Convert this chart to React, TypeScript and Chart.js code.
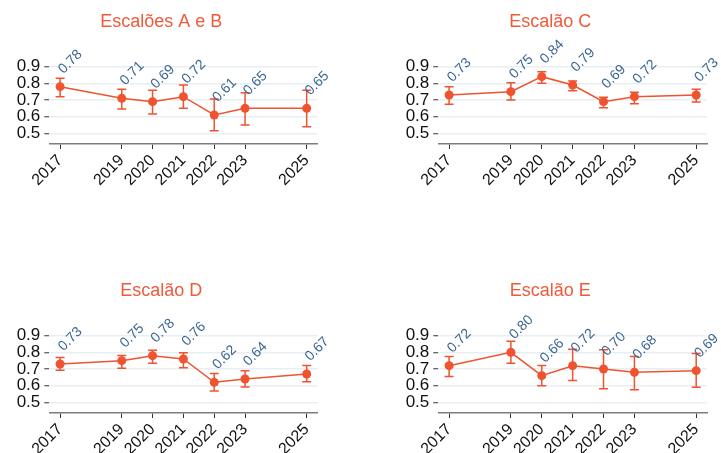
import React, { useEffect, useRef } from "react";
import { Chart, registerables } from "chart.js";
Chart.register(...registerables);

const years = [2017, 2019, 2020, 2021, 2022, 2023, 2025];
const yTicks = [0.5, 0.6, 0.7, 0.8, 0.9];

const titleAB = "Escalões A e B";
const valuesAB = [0.78, 0.71, 0.69, 0.72, 0.61, 0.65, 0.65];
const lowAB = [0.72, 0.646, 0.616, 0.65, 0.516, 0.55, 0.54];
const highAB = [0.83, 0.764, 0.758, 0.79, 0.706, 0.744, 0.758];

const titleC = "Escalão C";
const valuesC = [0.73, 0.75, 0.84, 0.79, 0.69, 0.72, 0.73];
const lowC = [0.674, 0.7, 0.8, 0.756, 0.654, 0.678, 0.688];
const highC = [0.78, 0.804, 0.87, 0.814, 0.716, 0.746, 0.764];

const titleD = "Escalão D";
const valuesD = [0.73, 0.75, 0.78, 0.76, 0.62, 0.64, 0.67];
const lowD = [0.693, 0.705, 0.735, 0.707, 0.568, 0.592, 0.623];
const highD = [0.769, 0.781, 0.812, 0.797, 0.673, 0.689, 0.721];

const titleE = "Escalão E";
const valuesE = [0.72, 0.8, 0.66, 0.72, 0.7, 0.68, 0.69];
const lowE = [0.655, 0.735, 0.6, 0.631, 0.582, 0.576, 0.59];
const highE = [0.775, 0.866, 0.721, 0.818, 0.816, 0.775, 0.793];

const ORANGE = "#ef5330";
const TITLE_COLOR = "#f05a3a";
const LABEL_COLOR = "#3b6591";
const GRID = "#e7eff2";
const FONT = '"Liberation Sans", Arial, Helvetica, sans-serif';

type PanelProps = {
  title: string;
  values: number[];
  low: number[];
  high: number[];
  left: number;
  top: number;
  width: number;
  height: number;
  padRight: number;
};

function Panel(p: PanelProps) {
  const ref = useRef<HTMLCanvasElement | null>(null);
  useEffect(() => {
    if (!ref.current) return;
    const errorBars = {
      id: "errorBars",
      beforeDatasetsDraw(chart: any) {
        const ctx = chart.ctx;
        const xs = chart.scales.x;
        const ys = chart.scales.y;
        ctx.save();
        ctx.strokeStyle = ORANGE;
        ctx.lineWidth = 1.5;
        years.forEach((yr, i) => {
          const x = xs.getPixelForValue(yr);
          const y1 = ys.getPixelForValue(p.low[i]);
          const y2 = ys.getPixelForValue(p.high[i]);
          ctx.beginPath();
          ctx.moveTo(x, y1);
          ctx.lineTo(x, y2);
          ctx.moveTo(x - 4.5, y1);
          ctx.lineTo(x + 4.5, y1);
          ctx.moveTo(x - 4.5, y2);
          ctx.lineTo(x + 4.5, y2);
          ctx.stroke();
        });
        ctx.restore();
      },
      afterDatasetsDraw(chart: any) {
        const ctx = chart.ctx;
        const xs = chart.scales.x;
        const ys = chart.scales.y;
        ctx.save();
        ctx.fillStyle = LABEL_COLOR;
        ctx.font = "14px " + FONT;
        ctx.textAlign = "left";
        ctx.textBaseline = "alphabetic";
        years.forEach((yr, i) => {
          const x = xs.getPixelForValue(yr);
          const y = ys.getPixelForValue(p.values[i]);
          ctx.save();
          ctx.translate(x + 3.5, y - 12.5);
          ctx.rotate(-Math.PI / 4);
          ctx.fillText(p.values[i].toFixed(2), 0, 0);
          ctx.restore();
        });
        ctx.restore();
      },
      afterDraw(chart: any) {
        const ctx = chart.ctx;
        ctx.save();
        ctx.fillStyle = TITLE_COLOR;
        ctx.font = "18px " + FONT;
        ctx.textAlign = "center";
        ctx.textBaseline = "middle";
        ctx.fillText(p.title, chart.chartArea.left + 112, 22);
        ctx.restore();
      },
    };
    const chart = new Chart(ref.current, {
      type: "line",
      data: {
        datasets: [
          {
            data: years.map((yr, i) => ({ x: yr, y: p.values[i] })),
            borderColor: ORANGE,
            backgroundColor: ORANGE,
            borderWidth: 1.5,
            pointRadius: 4.5,
            pointBackgroundColor: ORANGE,
            pointBorderColor: ORANGE,
            pointBorderWidth: 0,
            tension: 0,
          },
        ],
      },
      options: {
        responsive: false,
        animation: false,
        devicePixelRatio: 1,
        layout: { padding: { top: 40, right: p.padRight, left: 0, bottom: 0 } },
        plugins: { legend: { display: false }, title: { display: false }, tooltip: { enabled: false } },
        scales: {
          x: {
            type: "linear",
            min: 2016.65,
            max: 2025.35,
            afterBuildTicks: (s: any) => {
              s.ticks = years.map((v) => ({ value: v }));
            },
            afterFit: (s: any) => {
              s.height = p.height - 144;
            },
            ticks: {
              autoSkip: false,
              minRotation: 45,
              maxRotation: 45,
              color: "#111",
              padding: 2,
              font: { family: FONT, size: 16 },
              callback: (v: any) => String(v),
            },
            grid: {
              display: true,
              drawOnChartArea: false,
              drawTicks: true,
              tickLength: 5,
              tickColor: "#333",
              tickWidth: 1,
            },
            border: { display: true, color: "#7d7d7d", width: 1.5 },
          },
          y: {
            type: "linear",
            min: 0.436,
            max: 1.06,
            afterBuildTicks: (s: any) => {
              s.ticks = yTicks.map((v) => ({ value: v }));
            },
            afterFit: (s: any) => {
              s.width = 49.3;
            },
            ticks: {
              color: "#111",
              padding: 4,
              font: { family: FONT, size: 17 },
              callback: (v: any) => Number(v).toFixed(1),
            },
            grid: {
              color: GRID,
              lineWidth: 1.5,
              drawTicks: true,
              tickLength: 5,
              tickColor: "#333",
              tickWidth: 1,
            },
            border: { display: false },
          },
        },
      },
      plugins: [errorBars],
    } as any);
    return () => chart.destroy();
  }, []);
  return (
    <canvas
      ref={ref}
      width={p.width}
      height={p.height}
      style={{ position: "absolute", left: p.left, top: p.top, width: p.width, height: p.height, display: "block" }}
    />
  );
}

export default function App() {
  return (
    <div
      style={{
        position: "fixed",
        left: 0,
        top: 0,
        width: 721,
        height: 453,
        overflow: "hidden",
        background: "#fff",
      }}
    >
      <Panel title={titleAB} values={valuesAB} low={lowAB} high={highAB} left={0} top={0} width={360} height={200} padRight={42.5} />
      <Panel title={titleC} values={valuesC} low={lowC} high={highC} left={389} top={0} width={332} height={200} padRight={14} />
      <Panel title={titleD} values={valuesD} low={lowD} high={highD} left={0} top={269} width={360} height={200} padRight={42.5} />
      <Panel title={titleE} values={valuesE} low={lowE} high={highE} left={389} top={269} width={332} height={200} padRight={14} />
    </div>
  );
}
